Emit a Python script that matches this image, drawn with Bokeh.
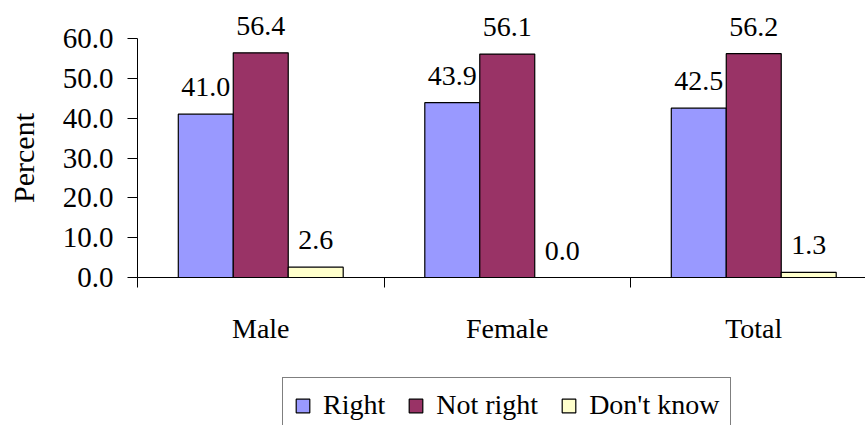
from bokeh.plotting import figure
from bokeh.models import (ColumnDataSource, FixedTicker, PrintfTickFormatter,
                          Legend, LegendItem, LabelSet, Label, Range1d)
from bokeh.embed import file_html
from bokeh.resources import INLINE

# Survey answers by sex, in percent
categories = ["Male", "Female", "Total"]
series = ["Right", "Not right", "Don't know"]
right = [41.0, 43.9, 42.5]
not_right = [56.4, 56.1, 56.2]
dont_know = [2.6, 0.0, 1.3]
y_ticks = [0, 10, 20, 30, 40, 50, 60]
y_title = "Percent"
colors = ["#9999FF", "#993366", "#FFFFCC"]

FONT = "'Liberation Serif', serif"
BAR_W = 0.223
Y_MAX = 60

# The frame fills the whole canvas; both axes are pinned at 0 inside it so that
# tick labels, axis title, value labels and legend all share the same area.
W, H = 865, 425
AXIS_LEFT, AXIS_TOP, AXIS_ZERO = 137, 38, 277
px_per_group = 246.5
px_per_unit = (AXIS_ZERO - AXIS_TOP) / Y_MAX
x_start = -AXIS_LEFT / px_per_group
x_end = (W - AXIS_LEFT) / px_per_group
y_start = -(H - AXIS_ZERO) / px_per_unit
y_end = AXIS_ZERO / px_per_unit

p = figure(width=W, height=H, output_backend="svg", toolbar_location=None,
           x_range=Range1d(x_start, x_end), y_range=Range1d(y_start, y_end),
           min_border_left=0, min_border_right=0,
           min_border_top=0, min_border_bottom=0)
p.outline_line_color = None
p.grid.visible = False
p.background_fill_color = "white"
p.border_fill_color = "white"

items = []
for k, (name, vals, col) in enumerate(zip(series, [right, not_right, dont_know], colors)):
    xs = [i + 0.5 + (k - 1) * BAR_W for i in range(len(categories))]
    src = ColumnDataSource(dict(x=xs, top=vals, label=[f"{v:.1f}" for v in vals]))
    r = p.vbar(x="x", top="top", bottom=0, width=BAR_W, source=src,
               fill_color=col, line_color="black", line_width=1.2)
    p.add_layout(LabelSet(x="x", y="top", text="label", source=src,
                          text_align="center", text_baseline="alphabetic",
                          y_offset=18, text_font=FONT, text_font_size="28px",
                          text_color="black"))
    items.append(LegendItem(label=name, renderers=[r]))

# x axis: tick marks between groups, group names centred
xa = p.xaxis[0]
xa.fixed_location = 0
xa.bounds = (0, len(categories))
xa.ticker = FixedTicker(ticks=[i + 0.5 for i in range(len(categories))],
                        minor_ticks=list(range(len(categories) + 1)))
xa.major_label_overrides = {i + 0.5: c for i, c in enumerate(categories)}
xa.major_tick_line_color = None
xa.major_tick_out = 0
xa.major_tick_in = 0
xa.minor_tick_out = 10
xa.minor_tick_in = 0
xa.minor_tick_line_color = "black"
xa.axis_line_color = "black"
xa.major_label_standoff = 25
xa.major_label_text_font = FONT
xa.major_label_text_font_size = "28px"
xa.major_label_text_color = "black"

ya = p.yaxis[0]
ya.fixed_location = 0
ya.bounds = (0, Y_MAX)
ya.ticker = FixedTicker(ticks=y_ticks)
ya.formatter = PrintfTickFormatter(format="%.1f")
ya.major_tick_out = 10
ya.major_tick_in = 0
ya.minor_tick_line_color = None
ya.major_tick_line_color = "black"
ya.axis_line_color = "black"
ya.major_label_standoff = 14
ya.major_label_text_font = FONT
ya.major_label_text_font_size = "29px"
ya.major_label_text_color = "black"

# vertical axis title, centred on the 0..60 span
p.add_layout(Label(x=23, x_units="screen", y=Y_MAX / 2, text=y_title,
                   angle=90, angle_units="deg", text_align="center",
                   text_baseline="middle", text_font=FONT,
                   text_font_size="30px", text_color="black"))

legend = Legend(items=items, orientation="horizontal", location=(282, -8),
                label_text_font=FONT, label_text_font_size="28px",
                label_text_color="black", glyph_width=17, glyph_height=17,
                label_standoff=12, spacing=22, padding=11, margin=0,
                border_line_color="black", border_line_width=1,
                background_fill_alpha=1)
p.add_layout(legend, "center")

open("out.html", "w").write(file_html(p, INLINE))
